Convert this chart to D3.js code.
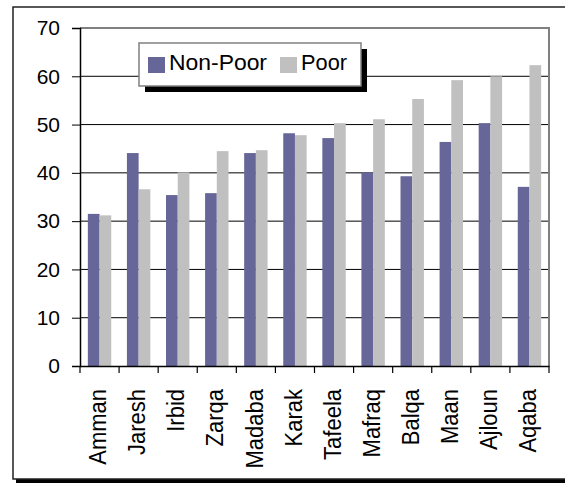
<!DOCTYPE html>
<html>
<head>
<meta charset="utf-8">
<script src="https://cdn.jsdelivr.net/npm/d3@7"></script>
<style>
  html, body { margin: 0; padding: 0; background: #fff; }
  svg { display: block; font-family: "Liberation Sans", Arial, sans-serif; }
</style>
</head>
<body>
<svg id="chart" width="565" height="483"></svg>
<script>
const categories = ["Amman","Jaresh","Irbid","Zarqa","Madaba","Karak","Tafeela","Mafraq","Balqa","Maan","Ajloun","Aqaba"];
const seriesNames = ["Non-Poor","Poor"];
const nonPoor = [31.5,44.1,35.4,35.8,44.1,48.2,47.2,40.1,39.3,46.4,50.3,37.1];
const poor    = [31.2,36.6,40.1,44.5,44.7,47.8,50.3,51.1,55.3,59.2,60.0,62.3];
const yTicks  = [0,10,20,30,40,50,60,70];
const colors  = ["#666699","#C0C0C0"];

const svg = d3.select("#chart");

// outer frame with shadow
svg.append("rect").attr("x",16).attr("y",10).attr("width",620).attr("height",473).attr("fill","#000");
svg.append("rect").attr("x",13).attr("y",7).attr("width",620).attr("height",472)
  .attr("fill","#fff").attr("stroke","#222").attr("stroke-width",1.5);

const m = {left:80, top:28, right:549, bottom:366};
const x0 = d3.scaleBand().domain(categories).range([m.left,m.right]).paddingInner(0).paddingOuter(0);
const x1 = d3.scaleBand().domain(seriesNames).range([0,x0.bandwidth()]).paddingInner(0).paddingOuter(0.67);
const y = d3.scaleLinear().domain([0,70]).range([m.bottom,m.top]);

// gridlines
svg.append("g").selectAll("line").data(yTicks.filter(t=>t>0 && t<70)).join("line")
  .attr("x1",m.left).attr("x2",m.right)
  .attr("y1",d=>y(d)).attr("y2",d=>y(d))
  .attr("stroke","#000").attr("stroke-width",1);

// plot-area border (top and right, gray)
svg.append("path")
  .attr("d",`M${m.left},${m.top}H${m.right}V${m.bottom}`)
  .attr("fill","none").attr("stroke","#808080").attr("stroke-width",2);

// bars
const data = categories.map((c,i)=>({c, vals:[nonPoor[i],poor[i]]}));
svg.append("g").selectAll("g").data(data).join("g")
  .attr("transform",d=>`translate(${x0(d.c)},0)`)
  .selectAll("rect").data(d=>d.vals.map((v,j)=>({s:seriesNames[j],v,j}))).join("rect")
  .attr("x",d=>x1(d.s)).attr("width",x1.bandwidth())
  .attr("y",d=>y(d.v)).attr("height",d=>y(0)-y(d.v))
  .attr("fill",d=>colors[d.j]);

// y axis
const yAxis = svg.append("g").attr("transform",`translate(${m.left},0)`)
  .call(d3.axisLeft(y).tickValues(yTicks).tickSize(8).tickPadding(12).tickFormat(d3.format("d")));
yAxis.select(".domain").attr("stroke","#000").attr("stroke-width",1.5);
yAxis.selectAll(".tick line").attr("stroke","#000");
yAxis.selectAll("text").attr("font-size",21).attr("fill","#000")
  .attr("font-family","Liberation Sans, Arial, sans-serif");

// x axis
const xAxis = svg.append("g").attr("transform",`translate(0,${m.bottom})`)
  .call(d3.axisBottom(x0).tickSize(0).tickPadding(0));
xAxis.select(".domain").attr("stroke","#000").attr("stroke-width",1.5);
// tick marks between categories
const bounds = categories.map(c=>x0(c)).concat([m.right]);
xAxis.append("g").selectAll("line").data(bounds).join("line")
  .attr("x1",d=>d).attr("x2",d=>d).attr("y1",0).attr("y2",7)
  .attr("stroke","#000").attr("stroke-width",1.2);
xAxis.selectAll(".tick text")
  .attr("font-size",22).attr("fill","#000")
  .attr("font-family","Liberation Sans, Arial, sans-serif")
  .attr("text-anchor","end")
  .attr("transform","translate(-2,23) rotate(-90) scale(1,1.12)")
  .attr("dy","0.35em").attr("y",0).attr("x",0);

// legend
const lg = svg.append("g");
lg.append("rect").attr("x",145).attr("y",49).attr("width",222).attr("height",43).attr("fill","#000");
lg.append("rect").attr("x",139).attr("y",43).attr("width",222).attr("height",43)
  .attr("fill","#fff").attr("stroke","#808080").attr("stroke-width",1.5);
const items = [{n:seriesNames[0],sx:148,tx:169,w:98},{n:seriesNames[1],sx:280,tx:301,w:46}];
items.forEach((it,i)=>{
  lg.append("rect").attr("x",it.sx).attr("y",57).attr("width",17).attr("height",16).attr("fill",colors[i]);
  lg.append("text").attr("x",it.tx).attr("y",70).attr("font-size",22).attr("fill","#000")
    .attr("textLength",it.w).attr("lengthAdjust","spacingAndGlyphs").text(it.n);
});
</script>
</body>
</html>
